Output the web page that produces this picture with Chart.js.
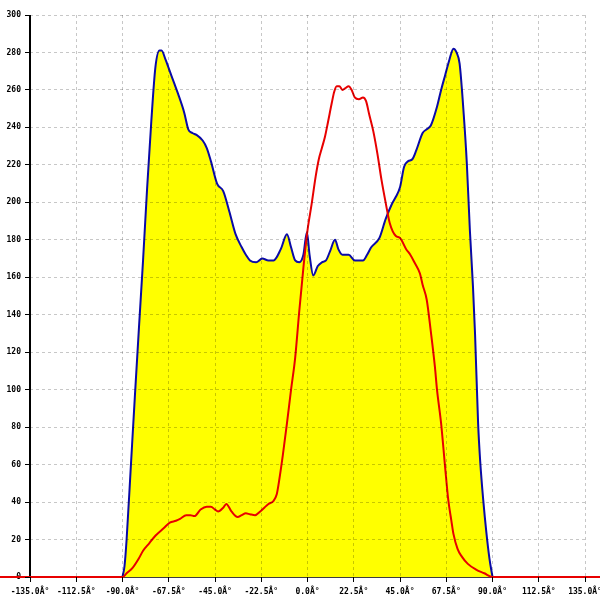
<!DOCTYPE html>
<html>
<head>
<meta charset="utf-8">
<script src="https://cdn.jsdelivr.net/npm/chart.js@4"></script>
<style>
  html, body { margin: 0; padding: 0; background: #fff; }
  #wrap { width: 600px; height: 600px; }
</style>
</head>
<body>
<div id="wrap"><canvas id="chart"></canvas></div>
<script>
// angle (deg) -> value
const blueAngles = [-90, -89, -88, -86, -84, -82, -80, -78, -76, -74, -72, -71, -69, -67, -65, -63, -60, -58, -56, -54, -51, -49, -47, -44, -41, -38, -35, -32, -30, -28, -25, -22, -19, -16.5, -13, -10, -8, -6, -4, -2, -0.3, 1, 2.8, 5, 7, 9, 11, 13.4, 15, 17, 20, 23, 27, 29, 31, 35, 38, 41, 43, 45, 47, 49, 51, 53, 56, 58, 60, 63, 65, 67, 69, 71, 72.5, 74, 76, 77.5, 79, 80.5, 81.5, 83, 84, 85.5, 87, 88.5, 90];
const blueValues = [0, 6, 20, 58, 96, 133, 169, 208, 243, 272, 281, 281, 276, 270, 264, 258, 248, 239, 237, 236, 233, 229, 222, 210, 206, 195, 183, 176, 172, 169, 168, 170, 169, 169, 175, 183, 176, 169, 168, 172, 184, 172, 161, 166, 168, 169, 174, 180, 175, 172, 172, 169, 169, 172, 176, 181, 191, 199, 203, 208, 219, 222, 223, 228, 237, 239, 241, 251, 260, 268, 276, 282, 280, 274, 247, 221, 185, 155, 130, 82, 62, 41, 24, 10, 0];

const redAngles = [-150, -90, -88, -85, -82, -80, -77, -74, -70, -67, -64, -62, -59, -57, -55, -52, -49, -47, -45, -43.5, -41, -39.5, -37, -34, -32, -30, -28, -25.5, -23, -21, -19, -16.6, -15, -14, -12, -10, -8, -6, -4, -2, 0, 2, 4, 5.5, 7, 8.5, 10, 11.8, 13, 14.2, 15.5, 17, 18.5, 20, 21.5, 23, 25, 27, 28.5, 30, 32, 34, 36, 38, 40, 43, 45, 48, 50, 52, 54.7, 56, 58, 60, 62, 63, 65, 67, 68.5, 70, 71, 73, 75, 78, 82, 86, 90, 150];
const redValues = [0, 0, 2, 5, 10, 14, 18, 22, 26, 29, 30, 31, 33, 33, 32.5, 36, 37.5, 37.5, 36, 35, 37, 39, 35, 32, 33, 34, 33.5, 33, 35, 37, 39, 40.5, 44, 50, 65, 82, 100, 117, 142, 165, 185, 199, 214, 223, 229, 235, 243, 253, 259, 262, 262, 260, 261, 262, 260, 256, 255, 256, 254, 247, 238, 226, 212, 200, 189, 182, 181, 175, 172, 168, 162, 156, 148, 131, 112, 100, 82, 58, 41, 30, 23, 15, 11, 7, 4, 2, 0, 0];

const xMin = -135, xMax = 135, xStep = 22.5;
const yMin = 0, yMax = 300, yStep = 20;
const degSuffix = 'Â°';

const toPoints = (xs, ys) => xs.map((x, i) => ({ x: x, y: ys[i] }));

const tickFont = { family: 'DejaVu Sans Mono', size: 8, weight: 'bold' };
const gridOpts = {
  // first line sits on the axis line, skip it
  color: (c) => (c.index === 0 ? 'rgba(0,0,0,0)' : 'rgba(0,0,0,0.22)'),
  tickColor: '#000',
  tickLength: 5,
  tickWidth: 1,
  z: 1, // grid over the yellow area
};

// black axis lines under the datasets, so the red line covers the x axis
const axisLines = {
  id: 'axisLines',
  beforeDatasetsDraw(chart) {
    const { ctx, chartArea: a } = chart;
    ctx.save();
    ctx.strokeStyle = '#000';
    ctx.lineWidth = 2;
    ctx.beginPath();
    ctx.moveTo(a.left, a.top);
    ctx.lineTo(a.left, a.bottom);
    ctx.stroke();
    ctx.lineWidth = 1.5;
    ctx.beginPath();
    ctx.moveTo(a.left, a.bottom);
    ctx.lineTo(a.right, a.bottom);
    ctx.stroke();
    ctx.restore();
  },
};

new Chart(document.getElementById('chart'), {
  type: 'line',
  data: {
    datasets: [
      {
        // red curve, drawn on top
        data: toPoints(redAngles, redValues),
        borderColor: '#e80000',
        borderWidth: 2,
        pointRadius: 0,
        fill: false,
        cubicInterpolationMode: 'monotone',
        clip: false,
      },
      {
        // blue curve with yellow area
        data: toPoints(blueAngles, blueValues),
        borderColor: '#0a0aa8',
        borderWidth: 2,
        backgroundColor: '#ffff00',
        pointRadius: 0,
        fill: 'origin',
        cubicInterpolationMode: 'monotone',
      },
    ],
  },
  plugins: [axisLines],
  options: {
    responsive: true,
    maintainAspectRatio: false,
    animation: false,
    layout: { padding: { top: 15, right: 15, left: 0, bottom: 0 } },
    plugins: {
      legend: { display: false },
      tooltip: { enabled: false },
    },
    scales: {
      x: {
        type: 'linear',
        min: xMin,
        max: xMax,
        afterBuildTicks: (scale) => {
          const t = [];
          for (let v = xMin; v <= xMax + 1e-9; v += xStep) t.push({ value: v });
          scale.ticks = t;
        },
        afterFit: (scale) => {
          scale.height = 23;
          scale.paddingLeft = 0;
          scale.paddingRight = 0;
        },
        ticks: {
          color: '#000',
          font: tickFont,
          padding: 5,
          maxRotation: 0,
          autoSkip: false,
          callback: (v) => Number(v).toFixed(1) + degSuffix,
        },
        grid: gridOpts,
        border: { display: false, dash: [3, 3] },
      },
      y: {
        min: yMin,
        max: yMax,
        afterFit: (scale) => { scale.width = 30; },
        ticks: {
          stepSize: yStep,
          color: '#000',
          font: tickFont,
          padding: 4,
        },
        grid: gridOpts,
        border: { display: false, dash: [3, 3] },
      },
    },
  },
});
</script>
</body>
</html>
